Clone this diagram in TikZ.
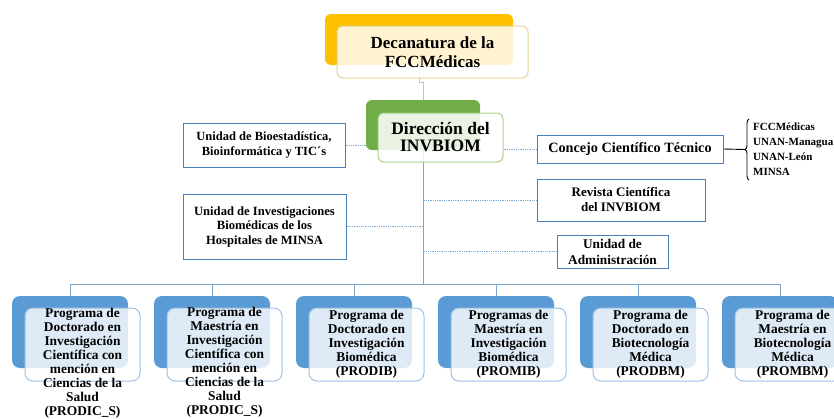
\documentclass[tikz,border=0pt]{standalone}
\usepackage{fontspec}
\setmainfont{Liberation Serif}
\usetikzlibrary{backgrounds,decorations.pathreplacing,calc}

\definecolor{naranja}{HTML}{FFC000}
\definecolor{verde}{HTML}{70AD47}
\definecolor{azul}{HTML}{5B9BD5}
\definecolor{bordeazul}{HTML}{9DC3E6}
\definecolor{bordeverde}{HTML}{A9D18E}
\definecolor{bordecrema}{HTML}{E2D491}
\definecolor{caja}{HTML}{4A7EBB}
\definecolor{punteo}{HTML}{7FA7D0}
\definecolor{tronco}{HTML}{7FA6C9}

\begin{document}
\begin{tikzpicture}[x=1pt,y=-1pt,
decback/.style ={rectangle, fill=naranja, rounded corners=6pt, inner sep=0pt, minimum width=188pt, minimum height=51pt},
decfront/.style={rectangle, draw=bordecrema, line width=1pt, fill=white, fill opacity=0.82, text opacity=1, rounded corners=6pt, align=center, inner sep=0pt, minimum width=191pt, minimum height=52pt, font=\bfseries\fontsize{17}{18.5}\selectfont},
dirback/.style ={rectangle, fill=verde, rounded corners=6pt, inner sep=0pt, minimum width=114pt, minimum height=50pt},
dirfront/.style={rectangle, draw=bordeverde, line width=1pt, fill=white, fill opacity=0.85, text opacity=1, rounded corners=6pt, align=center, inner sep=0pt, minimum width=125pt, minimum height=49pt, font=\bfseries\fontsize{17.5}{17}\selectfont},
unidad/.style={rectangle, draw=caja, line width=1pt, fill=white, align=center, inner sep=0pt, font=\bfseries\fontsize{12.5}{15}\selectfont},
lista/.style={anchor=west, align=left, inner xsep=0pt, inner ysep=4pt, font=\bfseries\fontsize{11}{15}\selectfont},
progback/.style ={rectangle, fill=azul, rounded corners=8pt, inner sep=0pt, minimum width=116pt, minimum height=72pt},
progfront/.style={rectangle, draw=bordeazul, line width=1pt, fill=white, fill opacity=0.8, rounded corners=8pt, inner sep=0pt, minimum width=115pt, minimum height=73pt},
progtext/.style={anchor=north, align=center, inner sep=0pt, font=\bfseries\fontsize{13.4}{14}\selectfont},
enlace/.style={draw=punteo, densely dotted, line width=0.8pt},
linea/.style={draw=tronco, line width=0.9pt}]

\useasboundingbox (0,0) rectangle (834,418);
\clip (0,0) rectangle (834,418);

\draw (419,39.5) node[decback] (DecB) {};
\draw (432.5,52) node[decfront] (Dec) {Decanatura de la\\FCCMédicas};
\draw (423,125) node[dirback] (DirB) {};
\draw (440.5,137.5) node[dirfront] (Dir) {Dirección del\\INVBIOM};
\draw (264,145) node[unidad, minimum width=162pt, minimum height=44pt] (Bio) {Unidad de Bioestadística,\\Bioinformática y TIC´s};
\draw (630,149) node[unidad, minimum width=186pt, minimum height=28pt, font=\bfseries\fontsize{14.2}{16}\selectfont] (Con) {Concejo Científico Técnico};
\draw (753,149.5) node[lista] (Lista) {FCCMédicas\\UNAN-Managua\\UNAN-León\\MINSA};
\draw (621,200) node[unidad, minimum width=168pt, minimum height=42pt, font=\bfseries\fontsize{13}{15}\selectfont] (Rev) {Revista Científica\\del INVBIOM};
\draw (264.5,226.5) node[unidad, minimum width=163pt, minimum height=65pt, font=\bfseries\fontsize{12.6}{14.5}\selectfont] (Hosp) {Unidad de Investigaciones\\Biomédicas de los\\Hospitales de MINSA};
\draw (612.5,251.5) node[unidad, minimum width=111pt, minimum height=33pt, font=\bfseries\fontsize{13.3}{16}\selectfont] (Adm) {Unidad de\\Administración};
\coordinate (Barra) at (423,284);
\coordinate (Pico) at ([xshift=-8pt]Lista.west);

\draw (70,332) node[progback] (PB1) {};
\draw (82.5,344.5) node[progfront] (PF1) {};
\draw (82.5,307.5) node[progtext] (PT1) {Programa de\\Doctorado en\\Investigación\\Científica con\\mención en\\Ciencias de la\\Salud\\(PRODIC\_S)};
\draw (212,332) node[progback] (PB2) {};
\draw (224.5,344.5) node[progfront] (PF2) {};
\draw (224.5,307) node[progtext] (PT2) {Programa de\\Maestría en\\Investigación\\Científica con\\mención en\\Ciencias de la\\Salud\\(PRODIC\_S)};
\draw (354,332) node[progback] (PB3) {};
\draw (366.5,344.5) node[progfront] (PF3) {};
\draw (366.5,310) node[progtext] (PT3) {Programa de\\Doctorado en\\Investigación\\Biomédica\\(PRODIB)};
\draw (496,332) node[progback] (PB4) {};
\draw (508.5,344.5) node[progfront] (PF4) {};
\draw (508.5,310) node[progtext] (PT4) {Programas de\\Maestría en\\Investigación\\Biomédica\\(PROMIB)};
\draw (638,332) node[progback] (PB5) {};
\draw (650.5,344.5) node[progfront] (PF5) {};
\draw (650.5,310) node[progtext] (PT5) {Programa de\\Doctorado en\\Biotecnología\\Médica\\(PRODBM)};
\draw (780,332) node[progback] (PB6) {};
\draw (792.5,344.5) node[progfront] (PF6) {};
\draw (792.5,310) node[progtext] (PT6) {Programa de\\Maestría en\\Biotecnología\\Médica\\(PROMBM)};

\begin{scope}[on background layer]
\draw[draw=bordecrema!80!verde, line width=0.8pt] (DecB.south) -- ++(0,17) -| (DirB.north);
\draw[linea] (DirB.south)--(Barra);
\draw[linea] (Barra) -| (PB1.north);
\draw[linea] (Barra) -| (PB2.north);
\draw[linea] (Barra) -| (PB3.north);
\draw[linea] (Barra) -| (PB4.north);
\draw[linea] (Barra) -| (PB5.north);
\draw[linea] (Barra) -| (PB6.north);
\draw[enlace] (Bio.east) -- (Bio.east -| DirB.west);
\draw[enlace] (Con.west) -- (Con.west -| Dir.east);
\draw[enlace] (Rev.west) -- (Rev.west -| Barra);
\draw[enlace] (Adm.west) -- (Adm.west -| Barra);
\draw[enlace] (Hosp.east) -- (Hosp.east -| Barra);
\end{scope}

\draw[line width=0.9pt] (Con.east)--(Pico);
\draw[line width=0.9pt, decorate, decoration={brace, amplitude=4pt}] ([xshift=-4pt]Lista.south west) -- ([xshift=-4pt]Lista.north west);

\end{tikzpicture}
\end{document}
